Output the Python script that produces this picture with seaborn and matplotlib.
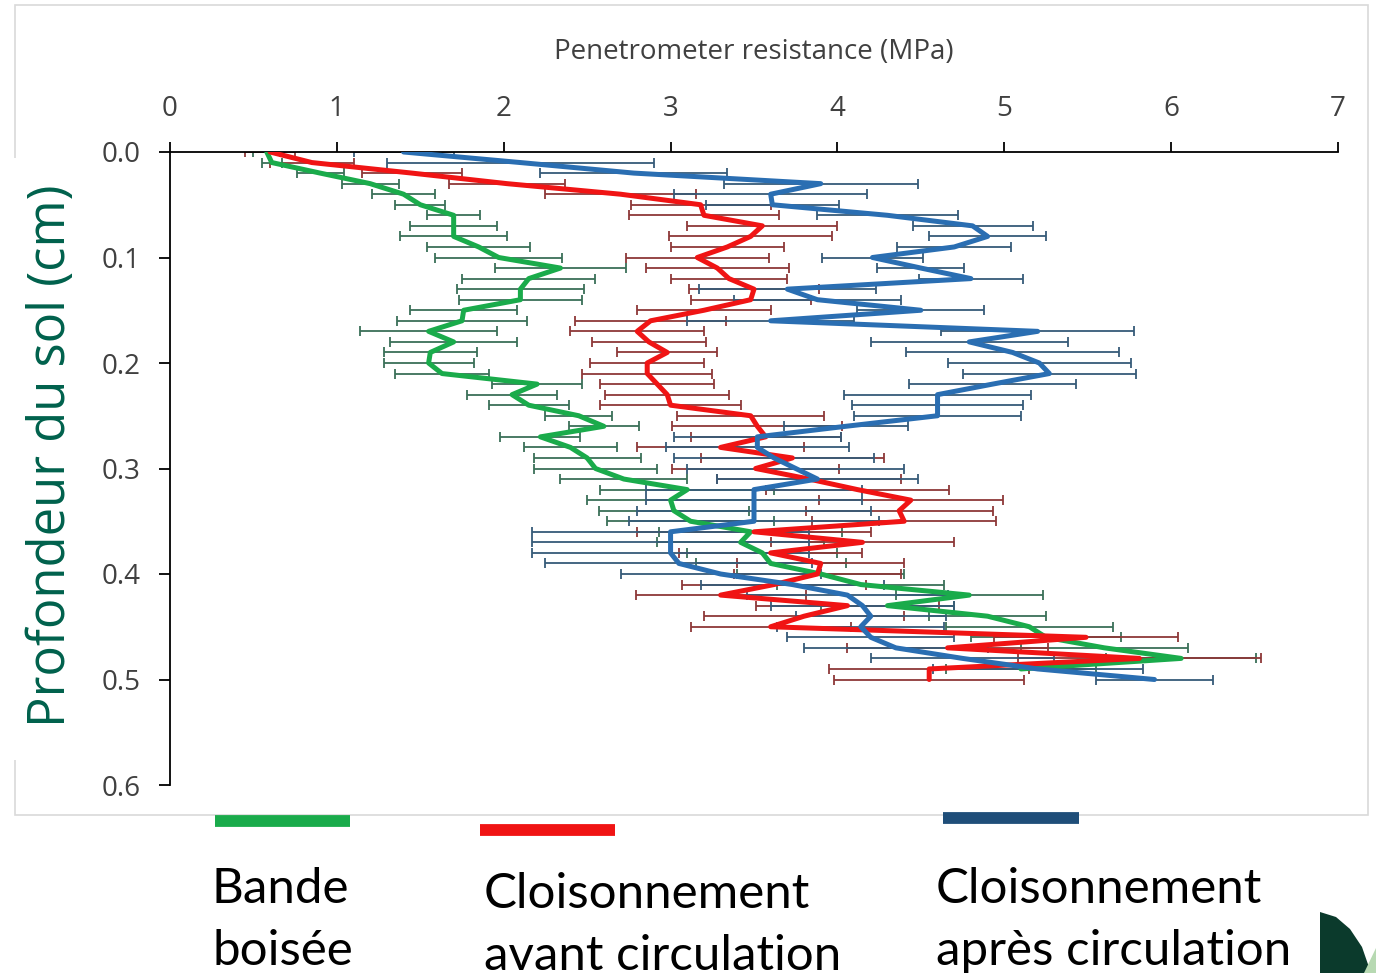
import numpy as np
import pandas as pd
import matplotlib
matplotlib.use("Agg")
import matplotlib.pyplot as plt
from matplotlib.lines import Line2D
from matplotlib.patches import Polygon, Rectangle
import seaborn as sns

# ---------------- data ----------------
depth_green = [round(0.01 * i, 2) for i in range(50)]
depth_red = [round(0.01 * i, 2) for i in range(51)]
depth_blue = [round(0.01 * i, 2) for i in range(51)]

green_mean = [0.58, 0.61, 0.90, 1.20, 1.40, 1.50, 1.70, 1.70, 1.70, 1.85,
              1.97, 2.34, 2.15, 2.10, 2.10, 1.76, 1.75, 1.55, 1.70, 1.56,
              1.55, 1.63, 2.20, 2.05, 2.15, 2.45, 2.60, 2.22, 2.40, 2.50,
              2.55, 2.72, 3.10, 3.00, 3.02, 3.12, 3.48, 3.42, 3.55, 3.60,
              3.90, 4.14, 4.79, 4.30, 4.90, 5.15, 5.25, 5.60, 6.06, 5.10]
green_err = [0.08, 0.06, 0.14, 0.17, 0.19, 0.15, 0.16, 0.26, 0.32, 0.31,
             0.38, 0.39, 0.40, 0.38, 0.37, 0.32, 0.39, 0.41, 0.38, 0.28,
             0.27, 0.28, 0.27, 0.27, 0.24, 0.20, 0.21, 0.24, 0.28, 0.32,
             0.37, 0.38, 0.52, 0.50, 0.45, 0.50, 0.55, 0.50, 0.45, 0.45,
             0.50, 0.50, 0.44, 0.40, 0.35, 0.50, 0.45, 0.50, 0.45, 0.45]

red_mean = [0.60, 0.85, 1.45, 2.02, 2.70, 3.18, 3.20, 3.55, 3.48, 3.34,
            3.16, 3.28, 3.35, 3.50, 3.48, 3.20, 2.88, 2.80, 2.87, 2.98,
            2.86, 2.86, 2.92, 2.98, 3.00, 3.48, 3.52, 3.57, 3.30, 3.73,
            3.51, 3.83, 4.12, 4.44, 4.37, 4.40, 3.50, 4.15, 3.60, 3.90,
            3.88, 3.62, 3.30, 4.06, 3.80, 3.60, 5.49, 4.66, 5.81, 4.55,
            4.55]
red_err = [0.15, 0.25, 0.30, 0.35, 0.45, 0.42, 0.45, 0.45, 0.49, 0.34,
           0.43, 0.43, 0.35, 0.39, 0.36, 0.40, 0.45, 0.40, 0.34, 0.30,
           0.34, 0.39, 0.34, 0.37, 0.42, 0.44, 0.51, 0.45, 0.50, 0.55,
           0.50, 0.55, 0.55, 0.55, 0.56, 0.55, 0.70, 0.55, 0.55, 0.50,
           0.50, 0.55, 0.51, 0.55, 0.60, 0.48, 0.55, 0.60, 0.73, 0.60,
           0.57]

blue_mean = [1.40, 2.10, 2.78, 3.90, 3.60, 3.61, 4.30, 4.81, 4.90, 4.70,
             4.21, 4.50, 4.80, 3.70, 3.88, 4.50, 3.60, 5.20, 4.79, 5.05,
             5.21, 5.27, 4.93, 4.60, 4.60, 4.60, 4.05, 3.52, 3.52, 3.62,
             3.75, 3.88, 3.50, 3.50, 3.50, 3.50, 3.00, 3.00, 3.00, 3.05,
             3.30, 3.73, 4.06, 4.15, 4.20, 4.14, 4.20, 4.35, 4.75, 5.20,
             5.90]
blue_err = [0.30, 0.80, 0.56, 0.58, 0.58, 0.40, 0.42, 0.36, 0.35, 0.34,
            0.30, 0.26, 0.31, 0.53, 0.50, 0.38, 0.50, 0.58, 0.59, 0.64,
            0.55, 0.52, 0.50, 0.56, 0.51, 0.50, 0.37, 0.50, 0.55, 0.60,
            0.65, 0.60, 0.65, 0.65, 0.70, 0.75, 0.83, 0.83, 0.83, 0.80,
            0.60, 0.55, 0.60, 0.55, 0.45, 0.50, 0.50, 0.55, 0.55, 0.63,
            0.35]

x_ticks = [0, 1, 2, 3, 4, 5, 6, 7]
y_ticks = [0.0, 0.1, 0.2, 0.3, 0.4, 0.5, 0.6]
y_ticklabels = ["0.0", "0.1", "0.2", "0.3", "0.4", "0.5", "0.6"]
legend_labels = [["Bande", "boisée"],
                 ["Cloisonnement", "avant circulation"],
                 ["Cloisonnement", "après circulation"]]

# ---------------- styling ----------------
sns.set_theme(style="white")
plt.rcParams["font.family"] = ["Open Sans", "DejaVu Sans"]

GREEN, RED, BLUE = "#1aab4b", "#f01414", "#2a6eb2"
GREEN_E, RED_E, BLUE_E = "#3a7058", "#8e3838", "#365b78"

fig = plt.figure(figsize=(13.76, 9.73), dpi=100)
W, H = 1376, 973

def fx(px):
    return px / W

def fy(py):
    return 1 - py / H

# chart frame (light grey border, left side interrupted by the y label)
frame = Rectangle((fx(15), fy(815)), fx(1368) - fx(15), fy(5) - fy(815),
                  transform=fig.transFigure, fill=False, edgecolor="#d9d9d9",
                  linewidth=1.2, zorder=0)
fig.add_artist(frame)
fig.add_artist(Rectangle((fx(8), fy(760)), fx(20) - fx(8), fy(158) - fy(760),
                         transform=fig.transFigure, facecolor="white",
                         edgecolor="none", zorder=0.5))

ax = fig.add_axes([fx(170), fy(785), fx(1338) - fx(170), fy(152) - fy(785)])
ax.set_facecolor("none")

series = [
    (depth_green, green_mean, green_err, GREEN, GREEN_E, "Bande boisée"),
    (depth_red, red_mean, red_err, RED, RED_E, "Cloisonnement avant circulation"),
    (depth_blue, blue_mean, blue_err, BLUE, BLUE_E, "Cloisonnement après circulation"),
]

for d, m, e, c, ce, name in series:
    ax.errorbar(m, d, xerr=e, fmt="none", ecolor=ce, elinewidth=1.3,
                capsize=3.5, capthick=1.3, zorder=2)

for d, m, e, c, ce, name in series:
    df = pd.DataFrame({"depth": d, "resistance": m})
    sns.lineplot(data=df, x="resistance", y="depth", sort=False, color=c,
                 linewidth=3.6, ax=ax, zorder=3, estimator=None)

ax.set_xlim(0, 7)
ax.set_ylim(0.6, 0)
ax.xaxis.tick_top()
ax.xaxis.set_label_position("top")
ax.set_xticks(x_ticks)
ax.set_xticklabels([str(t) for t in x_ticks])
ax.set_yticks(y_ticks)
ax.set_yticklabels(y_ticklabels)
ax.tick_params(axis="x", top=True, bottom=False, direction="out", length=7,
               width=1.3, color="black", labelsize=20, labelcolor="#404040", pad=14)
ax.tick_params(axis="y", left=True, direction="out", length=8,
               width=1.3, color="black", labelsize=20, labelcolor="#404040", pad=13)
for s in ["right", "bottom"]:
    ax.spines[s].set_visible(False)
for s in ["top", "left"]:
    ax.spines[s].set_color("black")
    ax.spines[s].set_linewidth(1.3)

ax.set_xlabel("Penetrometer resistance (MPa)", fontsize=20, color="#404040",
              labelpad=26)
ax.set_ylabel("")
fig.text(fx(52), fy(456), "Profondeur du sol (cm)", rotation=90,
         ha="center", va="center", fontsize=36.5, color="#00614c")

# legend (coloured bars + captions)
bars = [((215, 350), 821, GREEN), ((480, 615), 830, RED), ((943, 1079), 818, "#1f4e79")]
for (x0, x1), yy, col in bars:
    fig.add_artist(Line2D([fx(x0), fx(x1)], [fy(yy), fy(yy)], transform=fig.transFigure,
                          color=col, linewidth=8.5, solid_capstyle="butt"))

caption_pos = [(212, 903, 965), (484, 908, 970), (936, 903, 965)]
for (xl, b1, b2), lines in zip(caption_pos, legend_labels):
    fig.text(fx(xl), fy(b1), lines[0], ha="left", va="baseline",
             fontsize=35.5, color="black", family=["Lato", "DejaVu Sans"])
    fig.text(fx(xl), fy(b2), lines[1], ha="left", va="baseline",
             fontsize=35.5, color="black", family=["Lato", "DejaVu Sans"])

# corner logo fragment
logo = Polygon([(fx(1320), fy(973)), (fx(1320), fy(912)), (fx(1336), fy(917)),
                (fx(1350), fy(929)), (fx(1362), fy(947)), (fx(1371), fy(973))],
               closed=True, transform=fig.transFigure, facecolor="#0b3a2c",
               edgecolor="none")
fig.add_artist(logo)
fig.add_artist(Polygon([(fx(1364), fy(973)), (fx(1376), fy(948)), (fx(1376), fy(973))],
                       closed=True, transform=fig.transFigure, facecolor="#b7d9b2",
                       edgecolor="none"))

fig.savefig("out.png", dpi=100)
